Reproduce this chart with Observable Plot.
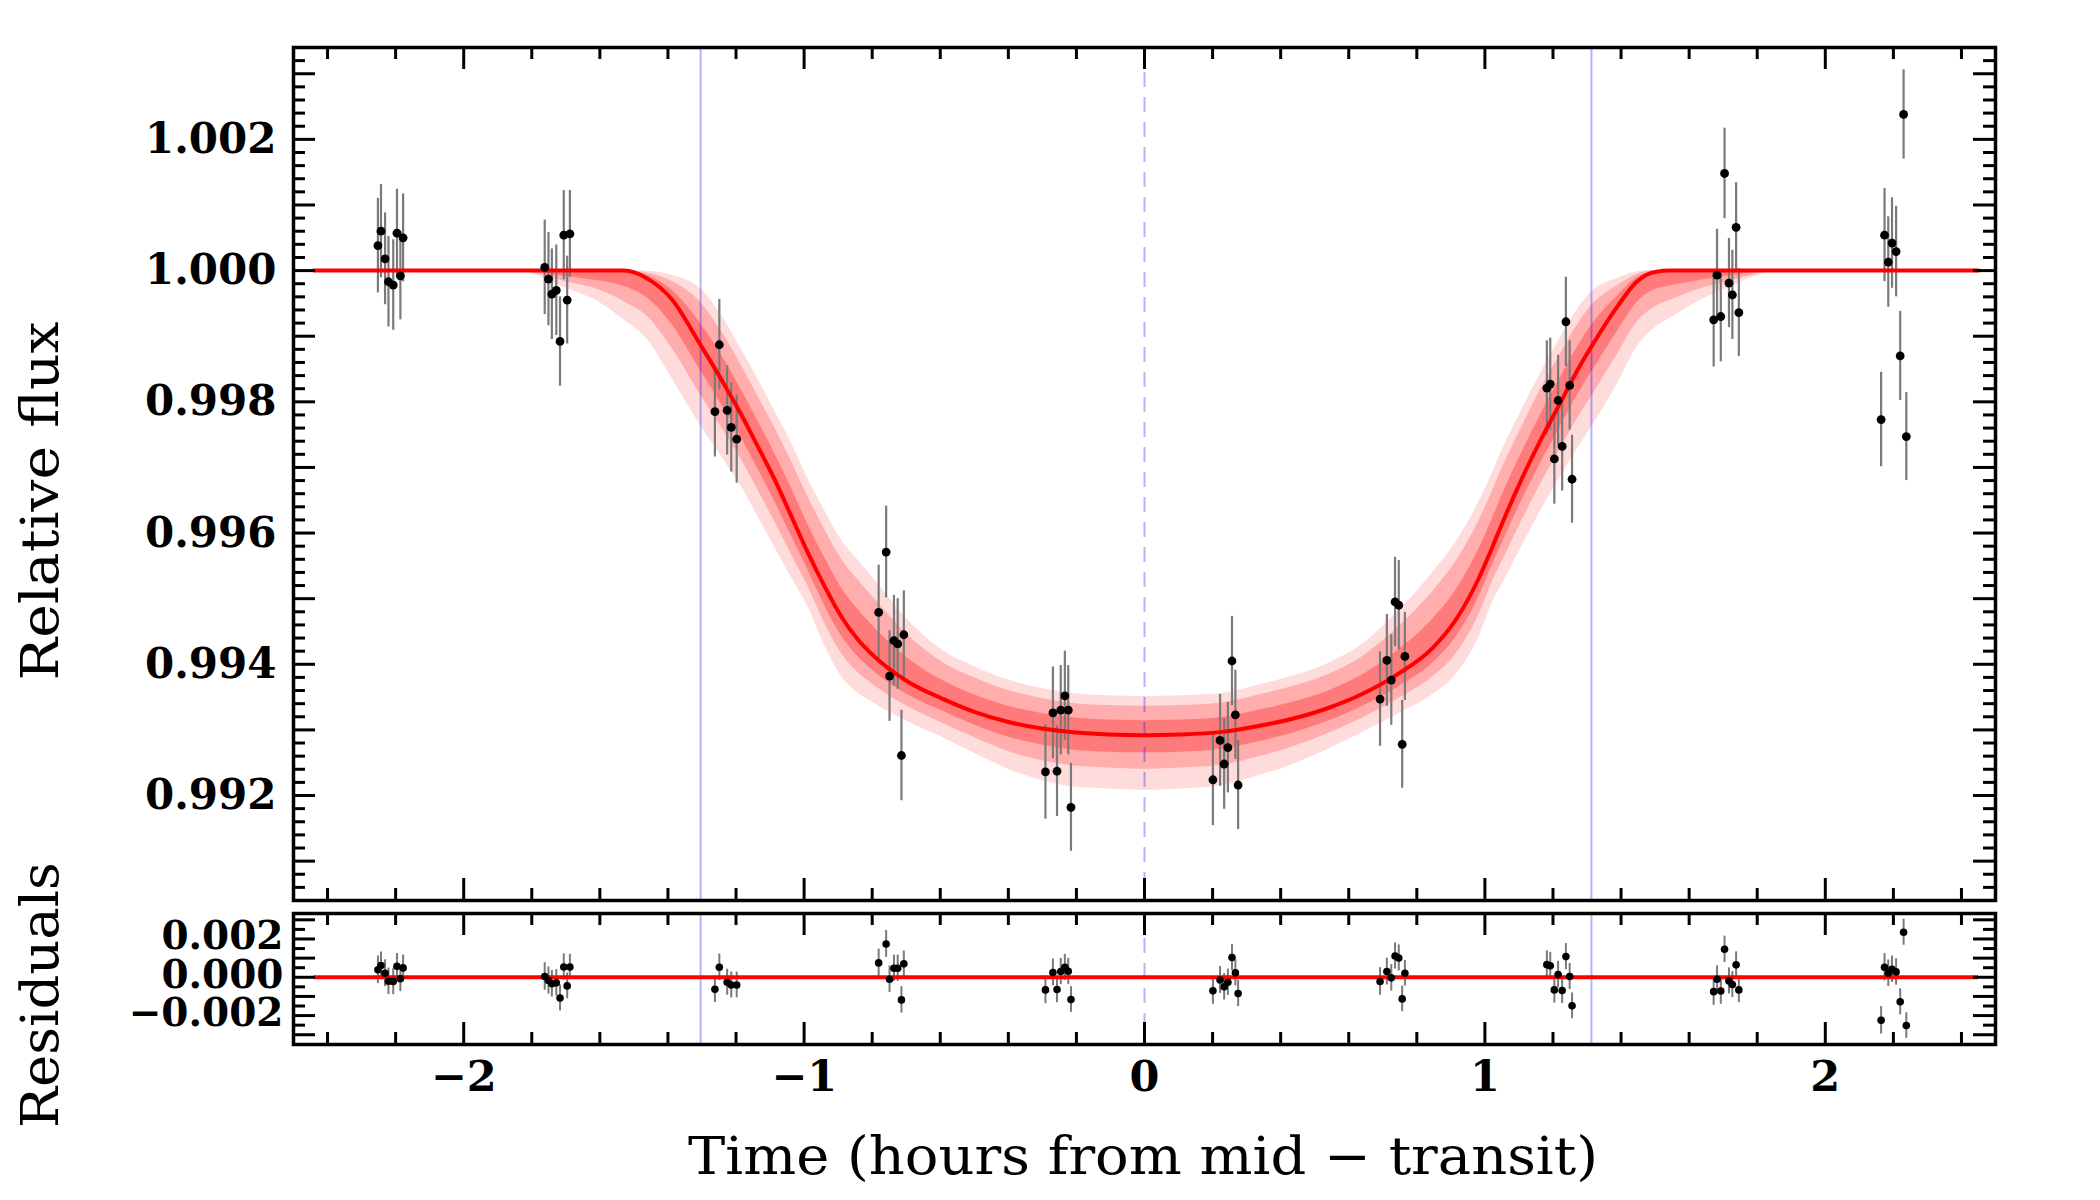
<!DOCTYPE html>
<html>
<head>
<meta charset="utf-8">
<script src="https://cdn.jsdelivr.net/npm/d3@7"></script>
<script src="https://cdn.jsdelivr.net/npm/@observablehq/plot@0.6"></script>
<style>
  html, body { margin: 0; padding: 0; background: #ffffff; }
  #chart { position: relative; width: 2100px; height: 1200px; background: #ffffff; overflow: hidden; }
  #chart > svg { position: absolute; left: 0; }
</style>
</head>
<body>
<div id="chart"></div>
<script>
// ---- Observations: time from mid-transit (hours), relative flux, 1-sigma error, residual ----
const obsTime = [
  -2.252, -2.243, -2.231, -2.221, -2.207, -2.196, -2.186, -2.178,
  -1.762, -1.751, -1.741, -1.728, -1.717, -1.706, -1.696, -1.688,
  -1.262, -1.249, -1.226, -1.214, -1.198,
  -0.781, -0.759, -0.749, -0.736, -0.725, -0.714, -0.707,
  -0.291, -0.269, -0.257, -0.246, -0.234, -0.224, -0.216,
   0.201,  0.222,  0.234,  0.245,  0.257,  0.267,  0.275,
   0.692,  0.712,  0.725,  0.736,  0.747,  0.757,  0.765,
   1.182,  1.192,  1.204,  1.215,  1.227,  1.238,  1.249,  1.256,
   1.672,  1.682,  1.693,  1.704,  1.717,  1.727,  1.738,  1.746,
   2.164,  2.174,  2.185,  2.196,  2.208,  2.220,  2.230,  2.238
];
const obsFlux = [
  1.00038, 1.00060, 1.00018, 0.99983, 0.99978, 1.00057, 0.99992, 1.00050,
  1.00005, 0.99987, 0.99964, 0.99970, 0.99892, 1.00054, 0.99955, 1.00056,
  0.99785, 0.99887, 0.99787, 0.99761, 0.99743,
  0.99479, 0.99571, 0.99382, 0.99436, 0.99431, 0.99261, 0.99445,
  0.99236, 0.99326, 0.99237, 0.99330, 0.99352, 0.99330, 0.99182,
  0.99224, 0.99284, 0.99248, 0.99273, 0.99405, 0.99323, 0.99216,
  0.99347, 0.99406, 0.99376, 0.99495, 0.99490, 0.99278, 0.99412,
  0.99821, 0.99827, 0.99713, 0.99802, 0.99732, 0.99922, 0.99825, 0.99682,
  0.99925, 0.99993, 0.99930, 1.00148, 0.99981, 0.99963, 1.00066, 0.99936,
  0.99773, 1.00054, 1.00013, 1.00042, 1.00029, 0.99870, 1.00238, 0.99747
];
const obsErr = [
  0.00072, 0.00071, 0.00070, 0.00069, 0.00069, 0.00067, 0.00067, 0.00067,
  0.00072, 0.00071, 0.00069, 0.00069, 0.00068, 0.00068, 0.00067, 0.00066,
  0.00069, 0.00069, 0.00068, 0.00068, 0.00067,
  0.00072, 0.00070, 0.00069, 0.00069, 0.00069, 0.00069, 0.00067,
  0.00072, 0.00070, 0.00069, 0.00068, 0.00068, 0.00068, 0.00067,
  0.00070, 0.00070, 0.00069, 0.00069, 0.00068, 0.00068, 0.00068,
  0.00072, 0.00070, 0.00069, 0.00068, 0.00068, 0.00067, 0.00067,
  0.00072, 0.00070, 0.00069, 0.00069, 0.00068, 0.00068, 0.00068, 0.00067,
  0.00072, 0.00070, 0.00069, 0.00069, 0.00068, 0.00068, 0.00068, 0.00067,
  0.00072, 0.00071, 0.00069, 0.00069, 0.00069, 0.00068, 0.00068, 0.00067
];
const obsResidual = [
   0.00039,  0.00061,  0.00021, -0.00021, -0.00022,  0.00057, -0.00008,  0.00049,
   0.00004, -0.00017, -0.00034, -0.00029, -0.00108,  0.00054, -0.00045,  0.00054,
  -0.00063,  0.00052, -0.00026, -0.00040, -0.00040,
   0.00075,  0.00174, -0.00010,  0.00047,  0.00047, -0.00118,  0.00070,
  -0.00066,  0.00025, -0.00064,  0.00030,  0.00052,  0.00031, -0.00116,
  -0.00071, -0.00014, -0.00050, -0.00026,  0.00103,  0.00023, -0.00085,
  -0.00022,  0.00030, -0.00003,  0.00111,  0.00101, -0.00113,  0.00021,
   0.00066,  0.00060, -0.00066,  0.00014, -0.00069,  0.00108,  0.00004, -0.00149,
  -0.00075, -0.00010, -0.00072,  0.00146, -0.00019, -0.00038,  0.00065, -0.00066,
  -0.00225,  0.00052,  0.00021,  0.00042,  0.00028, -0.00128,  0.00235, -0.00252
];

// ---- Best-fit transit model and its credible bands (offsets above / below the model) ----
const modelTime = [
  -2.44, -1.85, -1.70, -1.60, -1.53, -1.458, -1.39, -1.3035, -1.233, -1.184,
  -1.135, -1.086, -1.037, -0.988, -0.939, -0.890, -0.841, -0.792, -0.694, -0.596,
  -0.498, -0.400, -0.301, -0.2035, -0.105, 0.0,
   0.105, 0.2285, 0.335, 0.435, 0.538, 0.641, 0.744, 0.847, 0.920, 0.981,
   1.023, 1.051, 1.106, 1.164, 1.220, 1.276, 1.314, 1.389, 1.446, 1.500,
   1.547, 1.62, 1.72, 1.87, 2.45
];
const modelFlux = [
  1, 1, 1, 1, 1, 0.99987, 0.99957, 0.99886, 0.99825, 0.99780,
  0.99731, 0.99681, 0.99625, 0.99569, 0.99518, 0.99472, 0.99437, 0.99411, 0.99373, 0.99348,
  0.99327, 0.99312, 0.99302, 0.99296, 0.99293, 0.99292,
  0.99293, 0.99297, 0.99306, 0.99317, 0.99333, 0.99355, 0.99385, 0.99425, 0.99472, 0.99530,
  0.99580, 0.99615, 0.99680, 0.99742, 0.99797, 0.99852, 0.99885, 0.99945, 0.99983, 0.99998,
  1, 1, 1, 1, 1
];
const outerAbove = [
  0, 0, 0, 0, 0, 0.00012, 0.00036, 0.00086, 0.00099, 0.00100,
  0.00103, 0.00105, 0.00112, 0.00113, 0.00116, 0.00117, 0.00121, 0.00117, 0.00094, 0.00074,
  0.00069, 0.00064, 0.00061, 0.00059, 0.00059, 0.00059,
  0.00059, 0.00059, 0.00062, 0.00065, 0.00068, 0.00076, 0.00095, 0.00115, 0.00118, 0.00116,
  0.00113, 0.00112, 0.00105, 0.00102, 0.00099, 0.00092, 0.00083, 0.00043, 0.00015, 0.00002,
  0, 0, 0, 0, 0
];
const outerBelow = [
  0, 0, 0.00027, 0.00049, 0.00075, 0.00094, 0.00120, 0.00123, 0.00116, 0.00110,
  0.00107, 0.00103, 0.00093, 0.00082, 0.00090, 0.00091, 0.00081, 0.00071, 0.00061, 0.00059,
  0.00063, 0.00072, 0.00079, 0.00083, 0.00083, 0.00084,
  0.00083, 0.00082, 0.00076, 0.00070, 0.00063, 0.00059, 0.00061, 0.00071, 0.00085, 0.00090,
  0.00085, 0.00093, 0.00103, 0.00108, 0.00113, 0.00120, 0.00123, 0.00118, 0.00100, 0.00085,
  0.00072, 0.00049, 0.00025, 0, 0
];
const middleAbove = [
  0, 0, 0, 0, 0, 0.00009, 0.00027, 0.00065, 0.00074, 0.00075,
  0.00077, 0.00079, 0.00084, 0.00085, 0.00087, 0.00088, 0.00091, 0.00088, 0.00071, 0.00056,
  0.00052, 0.00048, 0.00046, 0.00044, 0.00044, 0.00044,
  0.00044, 0.00044, 0.00047, 0.00049, 0.00051, 0.00057, 0.00071, 0.00086, 0.00089, 0.00087,
  0.00085, 0.00084, 0.00079, 0.00077, 0.00074, 0.00069, 0.00062, 0.00032, 0.00011, 0.00002,
  0, 0, 0, 0, 0
];
const middleBelow = [
  0, 0, 0.00017, 0.00030, 0.00047, 0.00058, 0.00074, 0.00076, 0.00072, 0.00068,
  0.00066, 0.00064, 0.00058, 0.00051, 0.00056, 0.00056, 0.00050, 0.00044, 0.00038, 0.00037,
  0.00039, 0.00045, 0.00049, 0.00051, 0.00051, 0.00052,
  0.00051, 0.00051, 0.00047, 0.00043, 0.00039, 0.00037, 0.00038, 0.00044, 0.00053, 0.00056,
  0.00053, 0.00058, 0.00064, 0.00067, 0.00070, 0.00074, 0.00076, 0.00073, 0.00062, 0.00053,
  0.00045, 0.00030, 0.00016, 0, 0
];
const innerAbove = [
  0, 0, 0, 0, 0, 0.00005, 0.00014, 0.00033, 0.00038, 0.00038,
  0.00039, 0.00040, 0.00043, 0.00043, 0.00044, 0.00044, 0.00046, 0.00044, 0.00036, 0.00028,
  0.00026, 0.00024, 0.00023, 0.00022, 0.00022, 0.00022,
  0.00022, 0.00022, 0.00024, 0.00025, 0.00026, 0.00029, 0.00036, 0.00044, 0.00045, 0.00044,
  0.00043, 0.00043, 0.00040, 0.00039, 0.00038, 0.00035, 0.00032, 0.00016, 0.00006, 0.00001,
  0, 0, 0, 0, 0
];
const innerBelow = [
  0, 0, 0.00009, 0.00016, 0.00024, 0.00030, 0.00038, 0.00039, 0.00037, 0.00035,
  0.00034, 0.00033, 0.00030, 0.00026, 0.00029, 0.00029, 0.00026, 0.00023, 0.00020, 0.00019,
  0.00020, 0.00023, 0.00025, 0.00027, 0.00027, 0.00027,
  0.00027, 0.00026, 0.00024, 0.00022, 0.00020, 0.00019, 0.00020, 0.00023, 0.00027, 0.00029,
  0.00027, 0.00030, 0.00033, 0.00035, 0.00036, 0.00038, 0.00039, 0.00038, 0.00032, 0.00027,
  0.00023, 0.00016, 0.00008, 0, 0
];

// ---- Transit contact markers and axis ticks ----
const transitEdges = [-1.304, 1.313];
const midTransit = [0];
const xTickValues = [-2, -1, 0, 1, 2];
const xTickLabels = ["\u22122", "\u22121", "0", "1", "2"];
const fluxTickValues = [0.992, 0.994, 0.996, 0.998, 1.000, 1.002];
const fluxTickLabels = ["0.992", "0.994", "0.996", "0.998", "1.000", "1.002"];
const residTickValues = [-0.002, 0, 0.002];
const residTickLabels = ["\u22120.002", "0.000", "0.002"];

// ---- Layout ----
const W = 2100;
const ML = 293, MR = 105;
const innerW = W - ML - MR;
const tickFont = "'DejaVu Serif', serif";
const titleFont = "'DejaVu Serif', serif";
const LONG = 22, SHORT = 12;

const obs = obsTime.map((t, i) => ({t, f: obsFlux[i], e: obsErr[i], r: obsResidual[i]}));
const model = modelTime.map((t, i) => ({
  t, f: modelFlux[i],
  lo3: modelFlux[i] - outerBelow[i], hi3: modelFlux[i] + outerAbove[i],
  lo2: modelFlux[i] - middleBelow[i], hi2: modelFlux[i] + middleAbove[i],
  lo1: modelFlux[i] - innerBelow[i], hi1: modelFlux[i] + innerAbove[i]
}));

const xMinor = d3.range(-24, 25, 2).filter(k => k % 10 !== 0).map(k => k / 10);
const fluxMajor = d3.range(99100, 100340, 100).map(k => k / 1e5);
const fluxMinor = d3.range(99060, 100340, 20).filter(k => k % 100 !== 0).map(k => k / 1e5);
const residMajor = d3.range(-3000, 3001, 1000).map(k => k / 1e6);
const residMinor = d3.range(-2500, 2501, 1000).map(k => k / 1e6);

// inward-pointing ticks on all four sides of a panel
function boxTicks(innerH, yMajor, yMinor) {
  const s = {stroke: "black", strokeWidth: 3};
  return [
    Plot.tickX(xTickValues, {...s, insetTop: innerH - LONG}),
    Plot.tickX(xTickValues, {...s, insetBottom: innerH - LONG}),
    Plot.tickX(xMinor, {...s, insetTop: innerH - SHORT}),
    Plot.tickX(xMinor, {...s, insetBottom: innerH - SHORT}),
    Plot.tickY(yMajor, {...s, insetRight: innerW - LONG}),
    Plot.tickY(yMajor, {...s, insetLeft: innerW - LONG}),
    Plot.tickY(yMinor, {...s, insetRight: innerW - SHORT}),
    Plot.tickY(yMinor, {...s, insetLeft: innerW - SHORT})
  ];
}

const markerLines = [
  Plot.ruleX(transitEdges, {stroke: "#0000ff", strokeOpacity: 0.3, strokeWidth: 2}),
  Plot.ruleX(midTransit, {stroke: "#0000ff", strokeOpacity: 0.3, strokeWidth: 2, strokeDasharray: "15,10"})
];

// ---- Upper panel: light curve ----
const upperH = 906, upperMT = 47, upperMB = 6;
const upperPanel = Plot.plot({
  width: W, height: upperH,
  marginTop: upperMT, marginBottom: upperMB, marginLeft: ML, marginRight: MR,
  x: {domain: [-2.5, 2.5], axis: null},
  y: {domain: [0.9904, 1.0034], axis: null},
  style: {background: "transparent", overflow: "visible"},
  marks: [
    Plot.areaY(model, {x: "t", y1: "lo3", y2: "hi3", fill: "#ffdcdc", curve: "monotone-x"}),
    Plot.areaY(model, {x: "t", y1: "lo2", y2: "hi2", fill: "#ffadad", curve: "monotone-x"}),
    Plot.areaY(model, {x: "t", y1: "lo1", y2: "hi1", fill: "#ff7b7b", curve: "monotone-x"}),
    ...markerLines,
    Plot.ruleX(obs, {x: "t", y1: d => d.f - d.e, y2: d => d.f + d.e, stroke: "#7a7a7a", strokeWidth: 2.2}),
    Plot.line(model, {x: "t", y: "f", stroke: "#ff0000", strokeWidth: 4, curve: "monotone-x"}),
    Plot.dot(obs, {x: "t", y: "f", r: 4.4, fill: "black"}),
    ...boxTicks(upperH - upperMT - upperMB, fluxMajor, fluxMinor),
    Plot.frame({stroke: "black", strokeWidth: 3.5}),
    Plot.text(fluxTickValues, {
      y: d => d, text: (d, i) => fluxTickLabels[i], frameAnchor: "left", textAnchor: "end",
      dx: -17, fontSize: 42, fontWeight: "bold", fontFamily: tickFont, fill: "black"
    })
  ]
});
upperPanel.style.top = "0px";

// ---- Lower panel: residuals ----
const lowerTop = 906, lowerH = 294, lowerMT = 7, lowerMB = 156;
const lowerPanel = Plot.plot({
  width: W, height: lowerH,
  marginTop: lowerMT, marginBottom: lowerMB, marginLeft: ML, marginRight: MR,
  x: {domain: [-2.5, 2.5], axis: null},
  y: {domain: [-0.00351, 0.00333], axis: null},
  style: {background: "transparent", overflow: "visible"},
  marks: [
    ...markerLines,
    Plot.ruleX(obs, {x: "t", y1: d => d.r - d.e, y2: d => d.r + d.e, stroke: "#7a7a7a", strokeWidth: 2}),
    Plot.ruleY([0], {x1: d3.min(modelTime), x2: d3.max(modelTime), stroke: "#ff0000", strokeWidth: 4}),
    Plot.dot(obs, {x: "t", y: "r", r: 3.8, fill: "black"}),
    ...boxTicks(lowerH - lowerMT - lowerMB, residMajor, residMinor),
    Plot.frame({stroke: "black", strokeWidth: 3.5}),
    Plot.text(residTickValues, {
      y: d => d, text: (d, i) => residTickLabels[i], frameAnchor: "left", textAnchor: "end",
      dx: -10, dy: -2, fontSize: 39, fontWeight: "bold", fontFamily: tickFont, fill: "black"
    }),
    Plot.text(xTickValues, {
      x: d => d, text: (d, i) => xTickLabels[i], frameAnchor: "bottom", lineAnchor: "top",
      dy: 16, fontSize: 43, fontWeight: "bold", fontFamily: tickFont, fill: "black"
    })
  ]
});
lowerPanel.style.top = lowerTop + "px";

const chart = document.getElementById("chart");
chart.append(upperPanel, lowerPanel);

// ---- Axis titles ----
const titles = d3.create("svg")
  .attr("width", W).attr("height", 1200)
  .style("position", "absolute").style("left", "0px").style("top", "0px")
  .style("pointer-events", "none");
const titleSpecs = [
  {text: "Relative flux", x: 58, y: 501, rotate: -90, len: 359},
  {text: "Residuals", x: 58, y: 995, rotate: -90, len: 266},
  {text: "Time (hours from mid \u2212 transit)", x: 1143, y: 1174, rotate: 0, len: 910}
];
for (const s of titleSpecs) {
  titles.append("text")
    .attr("transform", `translate(${s.x},${s.y}) rotate(${s.rotate})`)
    .attr("text-anchor", "middle")
    .attr("textLength", s.len)
    .attr("lengthAdjust", "spacingAndGlyphs")
    .attr("font-family", titleFont)
    .attr("font-size", 52)
    .attr("fill", "black")
    .text(s.text);
}
chart.append(titles.node());
</script>
</body>
</html>
